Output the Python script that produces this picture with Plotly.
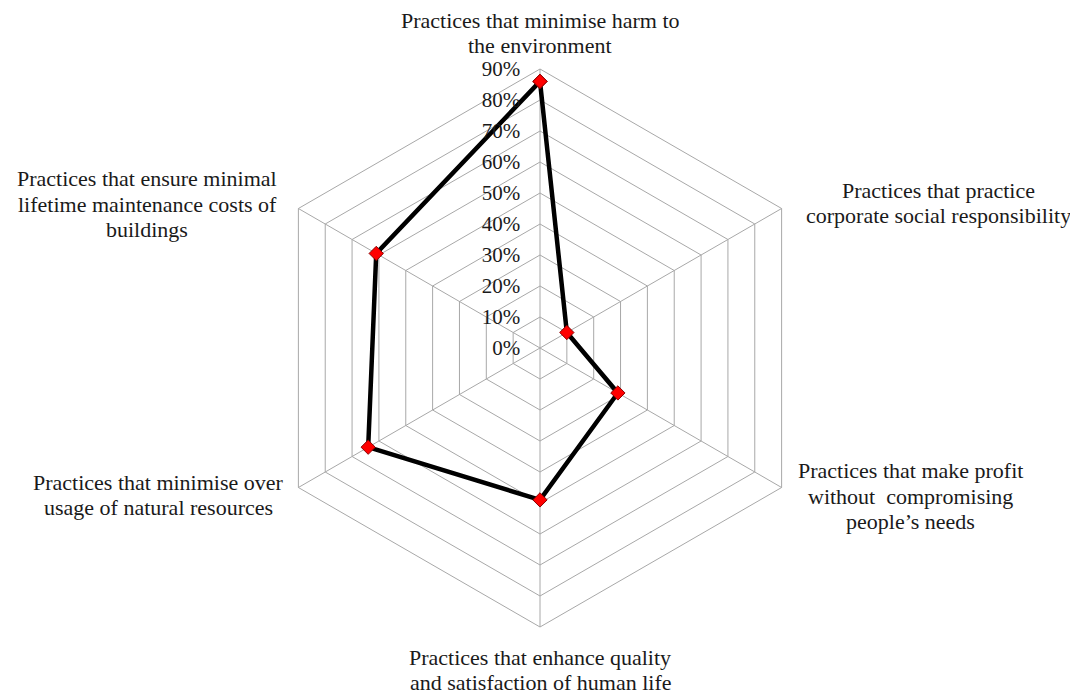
import plotly.graph_objects as go

categories = [
    "Practices that minimise harm to<br>the environment",
    "Practices that practice<br>corporate social responsibility",
    "Practices that make profit<br>without  compromising<br>people’s needs",
    "Practices that enhance quality<br>and satisfaction of human life",
    "Practices that minimise over<br>usage of natural resources",
    "Practices that ensure minimal<br>lifetime maintenance costs of<br>buildings",
]
values = [86, 10, 29, 49, 64, 61]
radial_ticks = [0, 10, 20, 30, 40, 50, 60, 70, 80, 90]
radial_ticktext = [f"{v}%" for v in radial_ticks]

# page has an 8px body margin; positions below are in figure pixels
OFF = 8
label_pos = [
    (540, 33), (938, 203), (910, 496), (540, 670), (158, 495), (147, 204)
]
LINE_GAP = 25.5

W, H = 1070, 686
cx, cy, R = 540 - OFF, 348 - OFF, 279

FONT = "Liberation Serif, Times New Roman, serif"
TXT = "#1a1a1a"
GRID = "#a8a8a8"

fig = go.Figure()
fig.add_trace(go.Scatterpolar(
    r=values + values[:1],
    theta=categories + categories[:1],
    mode="lines+markers",
    line=dict(color="black", width=4.5),
    marker=dict(symbol="diamond", size=11, color="#ff0000",
                line=dict(color="#8b0000", width=1)),
    showlegend=False,
    hoverinfo="skip",
))

fig.update_layout(
    width=W, height=H,
    margin=dict(l=0, r=0, t=0, b=0),
    paper_bgcolor="white",
    plot_bgcolor="white",
    font=dict(family=FONT, size=21, color=TXT),
    polar=dict(
        domain=dict(x=[(cx - R) / W, (cx + R) / W],
                    y=[(H - cy - R) / H, (H - cy + R) / H]),
        gridshape="linear",
        bgcolor="white",
        radialaxis=dict(
            range=[0, 90],
            tickvals=radial_ticks,
            ticktext=radial_ticktext,
            angle=90,
            side="counterclockwise",
            tickangle=90,
            showline=False,
            ticks="outside",
            ticklen=12,
            tickcolor="rgba(0,0,0,0)",
            gridcolor=GRID,
            gridwidth=1,
            tickfont=dict(family=FONT, size=21, color=TXT),
        ),
        angularaxis=dict(
            rotation=90,
            direction="clockwise",
            showticklabels=False,
            ticks="",
            showline=True,
            linecolor=GRID,
            linewidth=1,
            gridcolor=GRID,
            gridwidth=1,
        ),
    ),
)

for text, (x, y) in zip(categories, label_pos):
    lines = text.split("<br>")
    n = len(lines)
    for i, ln in enumerate(lines):
        yy = y - OFF + (i - (n - 1) / 2) * LINE_GAP
        fig.add_annotation(
            x=(x - OFF) / W, y=(H - yy) / H, xref="paper", yref="paper",
            text=ln, showarrow=False, align="center",
            xanchor="center", yanchor="middle",
            font=dict(family=FONT, size=22, color=TXT),
        )

fig.write_html("out.html")
